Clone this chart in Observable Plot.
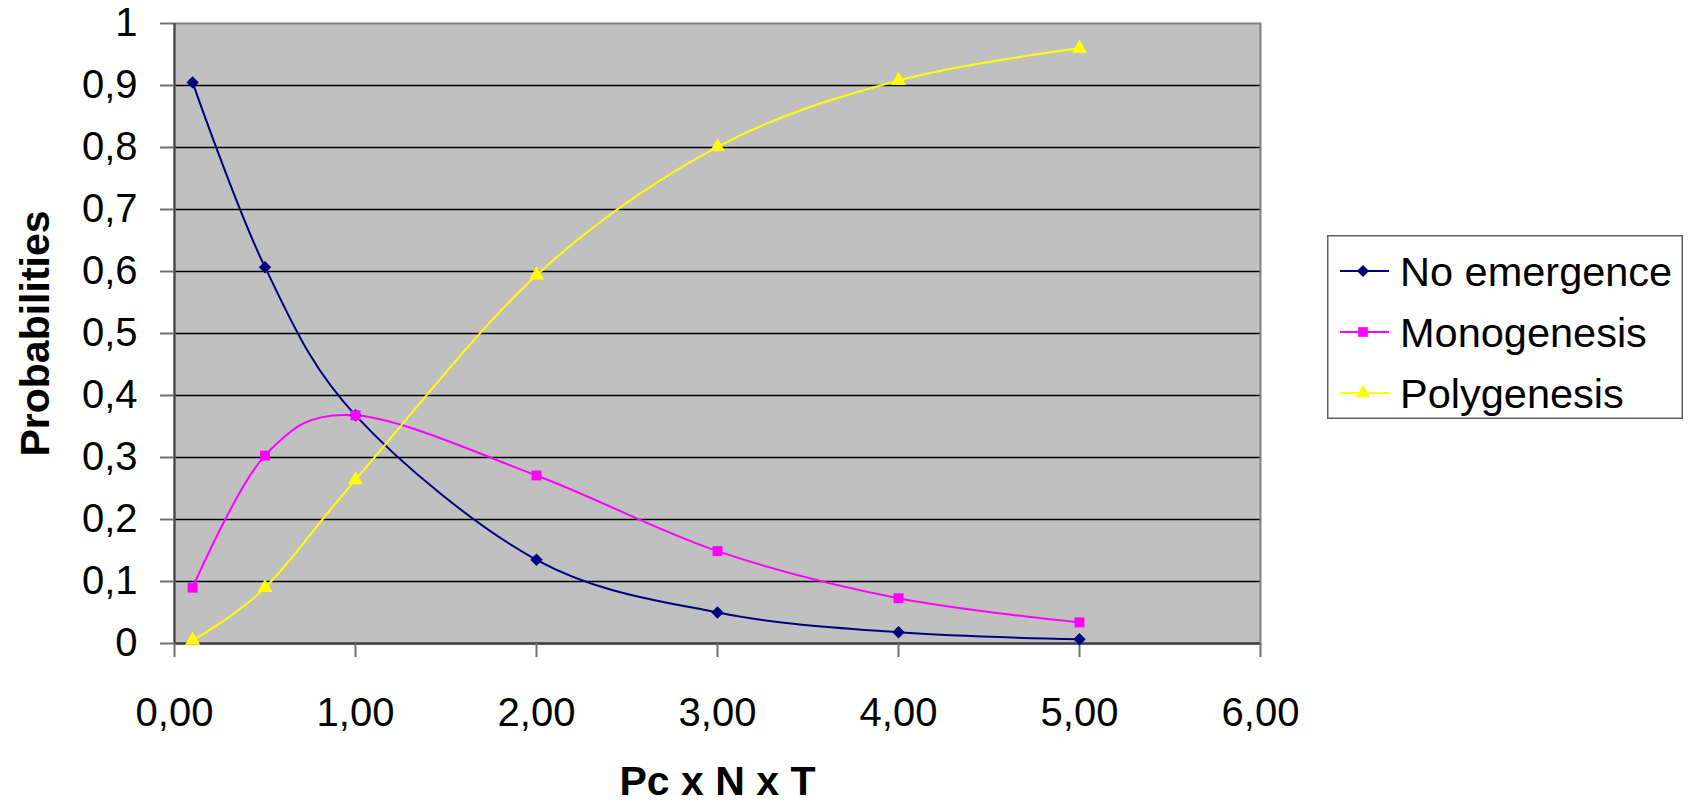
<!DOCTYPE html>
<html>
<head>
<meta charset="utf-8">
<script src="https://cdn.jsdelivr.net/npm/d3@7"></script>
<script src="https://cdn.jsdelivr.net/npm/@observablehq/plot@0.6"></script>
<style>
  html, body { margin: 0; padding: 0; background: #fff; }
  #wrap { position: relative; width: 1689px; height: 805px; font-family: "Liberation Sans", Arial, sans-serif; }
  #legend { position: absolute; left: 1327px; top: 235px; }
</style>
</head>
<body>
<div id="wrap"></div>
<script>
// ---- data ----
const xValues = [0.1, 0.5, 1, 2, 3, 4, 5];
const noEmergence = [0.905, 0.607, 0.368, 0.135, 0.050, 0.018, 0.007];
const monogenesis = [0.090, 0.303, 0.368, 0.271, 0.149, 0.073, 0.034];
const polygenesis = [0.005, 0.090, 0.264, 0.594, 0.801, 0.908, 0.960];
const seriesNames = ["No emergence", "Monogenesis", "Polygenesis"];
const seriesColors = ["#000080", "#ff00ff", "#ffff00"];
const seriesSymbols = ["diamond2", "square", "triangle"];
const xTicks = [0, 1, 2, 3, 4, 5, 6];
const xTickLabels = ["0,00", "1,00", "2,00", "3,00", "4,00", "5,00", "6,00"];
const yTicks = [0, 0.1, 0.2, 0.3, 0.4, 0.5, 0.6, 0.7, 0.8, 0.9, 1];
const yTickLabels = ["0", "0,1", "0,2", "0,3", "0,4", "0,5", "0,6", "0,7", "0,8", "0,9", "1"];
const xTitle = "Pc x N x T";
const yTitle = "Probabilities";

const seriesValues = [noEmergence, monogenesis, polygenesis];
const rows = [];
seriesNames.forEach((name, s) => {
  xValues.forEach((x, i) => rows.push({series: name, x, y: seriesValues[s][i]}));
});

const FONT = "Liberation Sans, Arial, sans-serif";

const chart = Plot.plot({
  width: 1689,
  height: 805,
  marginLeft: 174,
  marginTop: 23,
  marginRight: 429,
  marginBottom: 162,
  style: {fontFamily: FONT, fontSize: "40px", color: "black", background: "white"},
  x: {domain: [0, 6]},
  y: {domain: [0, 1]},
  color: {domain: seriesNames, range: seriesColors},
  symbol: {domain: seriesNames, range: seriesSymbols},
  marks: [
    Plot.frame({fill: "#c0c0c0", stroke: null}),
    Plot.ruleY(yTicks.filter(d => d > 0 && d < 1), {stroke: "black", strokeWidth: 1.3}),
    Plot.frame({stroke: "#808080", strokeWidth: 2}),
    Plot.ruleX([0], {stroke: "#404040", strokeWidth: 2}),
    Plot.ruleY([0], {stroke: "#404040", strokeWidth: 2.5}),
    Plot.axisX({ticks: xTicks, tickFormat: d => xTickLabels[xTicks.indexOf(d)], tickSize: 14, tickPadding: 40, stroke: "#707070", strokeWidth: 2, fontSize: 40, label: null}),
    Plot.axisY({ticks: yTicks, tickFormat: d => yTickLabels[yTicks.indexOf(d)], tickSize: 14, tickPadding: 23, stroke: "#707070", strokeWidth: 2, fontSize: 40, label: null}),
    Plot.line(rows, {x: "x", y: "y", z: "series", stroke: "series", strokeWidth: 2, curve: "cardinal", tension: 0}),
    Plot.dot(rows, {x: "x", y: "y", fill: "series", symbol: "series", r: 5.6, stroke: null}),
    Plot.text([yTitle], {frameAnchor: "left", textAnchor: "middle", text: d => d, rotate: -90, dx: -139, fontSize: 41, fontWeight: "bold", fill: "black"}),
    Plot.text([xTitle], {frameAnchor: "bottom", textAnchor: "middle", text: d => d, dy: 151, fontSize: 41, fontWeight: "bold", fill: "black"})
  ]
});
document.getElementById("wrap").appendChild(chart);

// ---- legend ----
const lw = 356, lh = 184;
const leg = d3.create("svg").attr("id", "legend").attr("width", lw).attr("height", lh)
  .style("font-family", FONT);
leg.append("rect").attr("x", 0.75).attr("y", 0.75).attr("width", lw - 1.5).attr("height", lh - 1.5)
  .attr("fill", "white").attr("stroke", "#606060").attr("stroke-width", 1.5);
const symMap = {diamond2: d3.symbolDiamond2, square: d3.symbolSquare, triangle: d3.symbolTriangle};
seriesNames.forEach((name, i) => {
  const cy = 36 + i * 61;
  const g = leg.append("g");
  g.append("line").attr("x1", 13).attr("x2", 62).attr("y1", cy).attr("y2", cy)
    .attr("stroke", seriesColors[i]).attr("stroke-width", 2);
  g.append("path").attr("transform", `translate(36,${cy})`)
    .attr("d", d3.symbol(symMap[seriesSymbols[i]], Math.PI * 30)())
    .attr("fill", seriesColors[i]);
  g.append("text").attr("x", 73).attr("y", cy).attr("dy", "0.35em")
    .attr("font-size", 41.5).attr("fill", "black").text(name);
});
document.getElementById("wrap").appendChild(leg.node());
</script>
</body>
</html>
